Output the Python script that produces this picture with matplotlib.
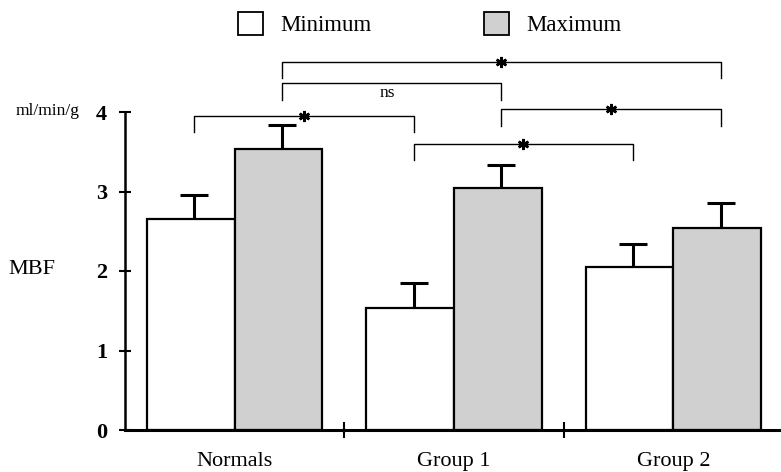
import matplotlib
matplotlib.use("Agg")
import matplotlib.pyplot as plt
from matplotlib.patches import Patch
import numpy as np

groups = ["Normals", "Group 1", "Group 2"]
series = ["Minimum", "Maximum"]
min_vals = [2.66, 1.54, 2.05]
max_vals = [3.54, 3.05, 2.54]
min_err = [0.29, 0.31, 0.29]
max_err = [0.30, 0.28, 0.31]
y_ticks = [0, 1, 2, 3, 4]
# brackets: (group_a, series_a, group_b, series_b, height, label)
brackets = [
    (0, 1, 2, 1, 4.63, "*"),
    (0, 1, 1, 1, 4.36, "ns"),
    (0, 0, 1, 0, 3.95, "*"),
    (1, 1, 2, 1, 4.035, "*"),
    (1, 0, 2, 0, 3.60, "*"),
]

serif = ["Liberation Serif", "DejaVu Serif"]
plt.rcParams["font.family"] = serif

fig = plt.figure(figsize=(7.81, 4.72), dpi=100)
ax = fig.add_axes([125 / 781, 1 - 430 / 472, 656 / 781, 318 / 472])

x = np.arange(len(groups))
w = 0.4
off = 0.015
colors = ["white", "#d0d0d0"]
vals = [min_vals, max_vals]
errs = [min_err, max_err]
for k in range(2):
    pos = x + (k - 0.5) * w
    ax.bar(pos, vals[k], width=w, color=colors[k], edgecolor="black",
           linewidth=1.6, zorder=2, label=series[k])
    eb = ax.errorbar(pos + off, vals[k], yerr=[np.zeros(3), errs[k]],
                     fmt="none", ecolor="black", elinewidth=2.2, capsize=10,
                     capthick=2.2, zorder=3)
    caps = eb[1]
    if len(caps) == 2:
        caps[0].set_visible(False)

def bx(g, s):
    return g + (s - 0.5) * w + off

drop = 0.205
for ga, sa, gb, sb, h, lab in brackets:
    xa, xb = bx(ga, sa), bx(gb, sb)
    ax.plot([xa, xa, xb, xb], [h - drop, h, h, h - drop], color="black",
            lw=1.0, clip_on=False, zorder=4)
    xm = (xa + xb) / 2
    if lab == "*":
        ax.plot([xm], [h], marker=(6, 2, 0), markersize=8, mew=1.8,
                color="black", clip_on=False, zorder=5)
    else:
        ax.text(xm - 0.02, h - 0.125, lab, ha="center", va="center",
                fontsize=12.5, clip_on=False)

ax.set_xlim(-0.5, 2.49)
ax.set_ylim(0, 4)
ax.spines["top"].set_visible(False)
ax.spines["right"].set_visible(False)
ax.spines["left"].set_linewidth(1.8)
ax.spines["bottom"].set_linewidth(2.2)

ax.set_yticks(y_ticks)
ax.set_yticklabels([str(t) for t in y_ticks], fontweight="bold", fontsize=16)
ax.tick_params(axis="y", direction="inout", length=8, width=1.5, pad=9)

ax.set_xticks(x)
ax.set_xticklabels(groups, fontsize=16)
ax.tick_params(axis="x", which="major", length=0, pad=16)
ax.set_xticks([0.5, 1.5], minor=True)
ax.tick_params(axis="x", which="minor", direction="inout", length=12, width=1.5)

fig.text(8 / 781, 1 - 270 / 472, "MBF", ha="left", va="center", fontsize=16)
fig.text(80 / 781, 1 - 115 / 472, "ml/min/g", ha="right", va="baseline",
         fontsize=12.5)

handles = [Patch(facecolor=colors[k], edgecolor="black", linewidth=1.3,
                 label=series[k]) for k in range(2)]
fig.legend(handles=handles, loc="upper left",
           bbox_to_anchor=(238 / 781, 1 - 12 / 472), ncol=2, frameon=False,
           fontsize=16.5, handlelength=1.1, handleheight=1.15,
           handletextpad=0.75, columnspacing=4.9, borderpad=0, borderaxespad=0)

fig.savefig("out.png", dpi=100)
